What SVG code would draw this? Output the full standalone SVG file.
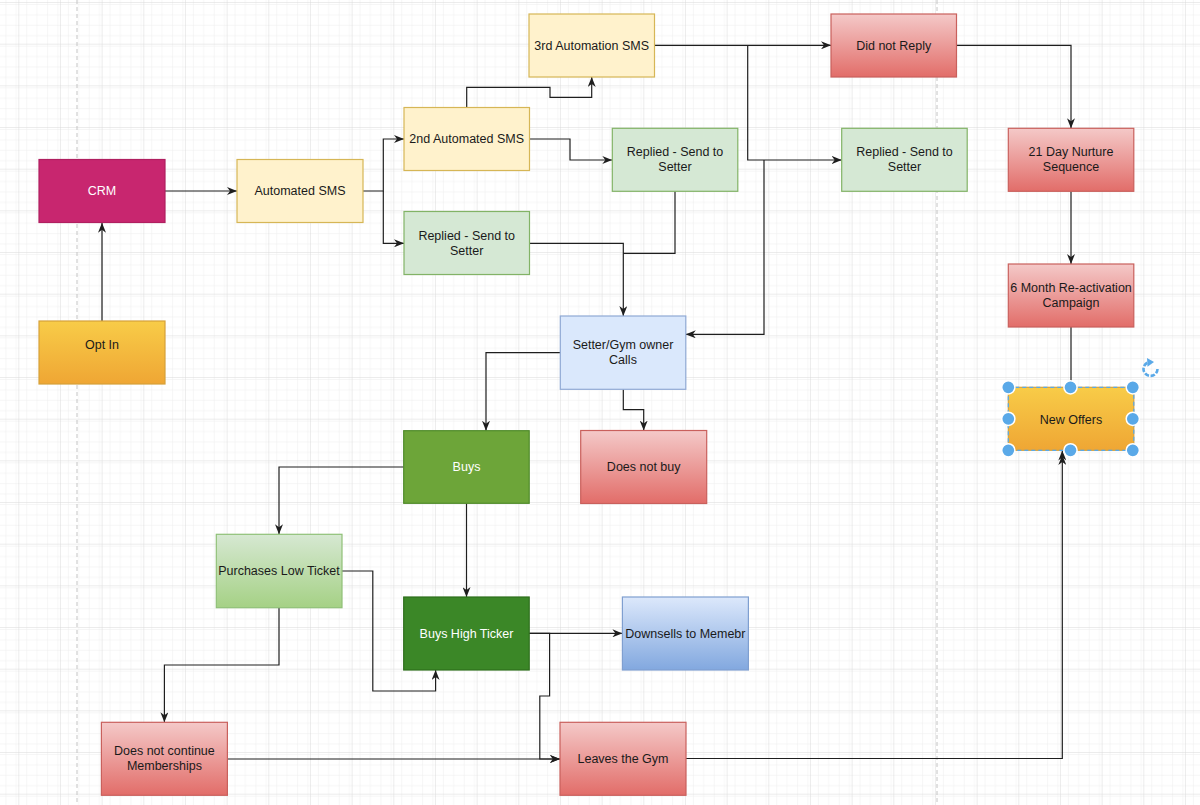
<svg xmlns="http://www.w3.org/2000/svg" width="1200" height="805" viewBox="0 0 1200 805">
<defs>
  <pattern id="minor" patternUnits="userSpaceOnUse" x="18.3" y="2" width="10.4167" height="10.4167">
    <path d="M0,0 H10.4167 M0,0 V10.4167" fill="none" stroke="#ededed" stroke-width="1"/>
  </pattern>
  <pattern id="major" patternUnits="userSpaceOnUse" x="18.3" y="2" width="41.6667" height="41.6667">
    <rect width="41.6667" height="41.6667" fill="url(#minor)"/>
    <path d="M0,0 H41.6667 M0,0 V41.6667" fill="none" stroke="#dadada" stroke-width="1"/>
  </pattern>
  <linearGradient id="gRed" x1="0" y1="0" x2="0" y2="1">
    <stop offset="0" stop-color="#f4c9c8"/>
    <stop offset="1" stop-color="#e26d69"/>
  </linearGradient>
  <linearGradient id="gOrange" x1="0" y1="0" x2="0" y2="1">
    <stop offset="0" stop-color="#f8cc48"/>
    <stop offset="1" stop-color="#efa634"/>
  </linearGradient>
  <linearGradient id="gGreen" x1="0" y1="0" x2="0" y2="1">
    <stop offset="0" stop-color="#d6e8d2"/>
    <stop offset="1" stop-color="#a5d185"/>
  </linearGradient>
  <linearGradient id="gBlue" x1="0" y1="0" x2="0" y2="1">
    <stop offset="0" stop-color="#dce8fb"/>
    <stop offset="1" stop-color="#82a8df"/>
  </linearGradient>
  <marker id="arr" markerUnits="userSpaceOnUse" viewBox="0 0 10 8" markerWidth="10" markerHeight="8" refX="10" refY="4" orient="auto">
    <path d="M0,0 L10,4 L0,8 L3,4 Z" fill="#1e1e1e"/>
  </marker>
  <style>
    .n rect { stroke-width: 1.2; }
    .yel { fill: #fff2cc; stroke: #d6b656; }
    .grn { fill: #d5e8d4; stroke: #82b366; }
    .red { fill: url(#gRed); stroke: #c9605c; }
    .org { fill: url(#gOrange); stroke: #d6a13a; }
    .blu { fill: #dae8fc; stroke: #8fa9d4; }
    .t { font-family: "Liberation Sans", Arial, sans-serif; font-size: 12.5px; fill: #1a1a1a; text-anchor: middle; }
    .w { fill: #ffffff; }
    #connectors path { fill: none; stroke: #1e1e1e; stroke-width: 1.2; }
    .a { marker-end: url(#arr); }
    .h { fill: #5aa9e8; stroke: #ffffff; stroke-width: 1.5; }
  </style>
</defs>

<rect width="1200" height="805" fill="#ffffff"/>
<rect width="1200" height="805" fill="url(#major)"/>
<path d="M77,0 V805 M937,0 V805" stroke="#c4c4c4" stroke-width="1" stroke-dasharray="4,3" fill="none"/>

<g id="connectors">
  <path class="a" d="M102,321 V222.8"/>
  <path class="a" d="M165,191 H237"/>
  <path class="a" d="M363,191 H383.3 V139 H404"/>
  <path class="a" d="M383.3,191 V243.3 H404"/>
  <path class="a" d="M466.7,107.5 V87.3 H550 V97.3 H591.7 V77"/>
  <path class="a" d="M529.5,139 H570 V160 H612.3"/>
  <path class="a" d="M529.5,243.3 H623.3 V316"/>
  <path d="M675,191.3 V253.3 H623.3"/>
  <path class="a" d="M654.5,45.3 H831"/>
  <path class="a" d="M747.7,45.3 V160 H841.7"/>
  <path class="a" d="M764,160 V334.3 H685.8"/>
  <path class="a" d="M956.5,45.3 H1071 V128.3"/>
  <path class="a" d="M1071,191.3 V264"/>
  <path d="M1071,327 V387"/>
  <path class="a" d="M560.3,352.7 H486 V430.7"/>
  <path class="a" d="M623.3,389.3 V409.7 H643.7 V430.5"/>
  <path class="a" d="M403.7,467 H279 V534.3"/>
  <path class="a" d="M466.5,503.3 V597"/>
  <path class="a" d="M342,571 H372.8 V691 H435.6 V670"/>
  <path class="a" d="M279,607.7 V665 H164.4 V722.3"/>
  <path class="a" d="M529.2,633.3 H622.4"/>
  <path class="a" d="M529.2,633.3 H549.6 V696 H539.8 V759 H560"/>
  <path class="a" d="M227.4,759 H560"/>
  <path class="a" d="M686,758.5 H1062.3 V450.5"/>
  <path class="a" d="M1062.3,462 V455"/>
</g>

<g id="crm" class="n">
  <rect x="39" y="159.5" width="126" height="63" fill="#c8266f" stroke="#b01f60"/>
  <text class="t w" x="102" y="195">CRM</text>
</g>
<g id="opt-in" class="n">
  <rect class="org" x="39" y="321" width="126" height="63"/>
  <text class="t" x="102" y="348.5">Opt In</text>
</g>
<g id="automated-sms" class="n">
  <rect class="yel" x="237" y="159.5" width="126" height="63"/>
  <text class="t" x="300" y="195">Automated SMS</text>
</g>
<g id="sms-2" class="n">
  <rect class="yel" x="404" y="107.5" width="125.5" height="63"/>
  <text class="t" x="466.7" y="143">2nd Automated SMS</text>
</g>
<g id="replied-left" class="n">
  <rect class="grn" x="404" y="211.5" width="125.5" height="63"/>
  <text class="t" x="466.7" y="239.5">Replied - Send to</text>
  <text class="t" x="466.7" y="254.5">Setter</text>
</g>
<g id="sms-3" class="n">
  <rect class="yel" x="529" y="14" width="125.5" height="63"/>
  <text class="t" x="591.7" y="49.5">3rd Automation SMS</text>
</g>
<g id="replied-mid" class="n">
  <rect class="grn" x="612.3" y="128.3" width="125.5" height="63"/>
  <text class="t" x="675" y="156">Replied - Send to</text>
  <text class="t" x="675" y="171">Setter</text>
</g>
<g id="did-not-reply" class="n">
  <rect class="red" x="831" y="14" width="125.5" height="63"/>
  <text class="t" x="893.7" y="49.5">Did not Reply</text>
</g>
<g id="replied-right" class="n">
  <rect class="grn" x="841.7" y="128.3" width="125.5" height="63"/>
  <text class="t" x="904.5" y="156">Replied - Send to</text>
  <text class="t" x="904.5" y="171">Setter</text>
</g>
<g id="nurture" class="n">
  <rect class="red" x="1008.3" y="128.3" width="125.5" height="63"/>
  <text class="t" x="1071" y="156">21 Day Nurture</text>
  <text class="t" x="1071" y="171">Sequence</text>
</g>
<g id="reactivation" class="n">
  <rect class="red" x="1008.3" y="264" width="125.5" height="63"/>
  <text class="t" x="1071" y="291.5">6 Month Re-activation</text>
  <text class="t" x="1071" y="306.5">Campaign</text>
</g>
<g id="new-offers" class="n">
  <rect class="org" x="1008.3" y="387.3" width="125.5" height="63" stroke="none"/>
  <rect x="1008.3" y="387.3" width="125.5" height="63" fill="none" stroke="#5aa9e8" stroke-width="1.2" stroke-dasharray="4,3"/>
  <text class="t" x="1071" y="423.5">New Offers</text>
</g>
<g id="setter" class="n">
  <rect class="blu" x="560.3" y="316" width="125.5" height="73.3"/>
  <text class="t" x="623" y="349">Setter/Gym owner</text>
  <text class="t" x="623" y="363.5">Calls</text>
</g>
<g id="does-not-buy" class="n">
  <rect class="red" x="580.7" y="430.5" width="126" height="73"/>
  <text class="t" x="643.7" y="471">Does not buy</text>
</g>
<g id="buys" class="n">
  <rect x="403.7" y="430.7" width="125.5" height="72.6" fill="#6da539" stroke="#4f8a2a"/>
  <text class="t w" x="466.5" y="471">Buys</text>
</g>
<g id="low-ticket" class="n">
  <rect x="216.3" y="534.3" width="125.7" height="73.4" fill="url(#gGreen)" stroke="#8fc077"/>
  <text class="t" x="279" y="575">Purchases Low Ticket</text>
</g>
<g id="high-ticket" class="n">
  <rect x="403.7" y="597" width="125.5" height="73" fill="#3b8727" stroke="#2e6e1c"/>
  <text class="t w" x="466.5" y="637.5">Buys High Ticker</text>
</g>
<g id="downsells" class="n">
  <rect x="622.4" y="597" width="126" height="73" fill="url(#gBlue)" stroke="#7f9fd0"/>
  <text class="t" x="685.4" y="637.5">Downsells to Memebr</text>
</g>
<g id="not-continue" class="n">
  <rect class="red" x="101.4" y="722.3" width="126" height="73"/>
  <text class="t" x="164.4" y="755">Does not continue</text>
  <text class="t" x="164.4" y="770">Memberships</text>
</g>
<g id="leaves-gym" class="n">
  <rect class="red" x="560" y="722.3" width="126" height="73"/>
  <text class="t" x="623" y="763">Leaves the Gym</text>
</g>

<g id="selection">
  <circle class="h" cx="1008.3" cy="387.3" r="6.6"/>
  <circle class="h" cx="1070.5" cy="387.3" r="6.6"/>
  <circle class="h" cx="1132.8" cy="387.3" r="6.6"/>
  <circle class="h" cx="1008.3" cy="418.8" r="6.6"/>
  <circle class="h" cx="1132.8" cy="418.8" r="6.6"/>
  <circle class="h" cx="1008.3" cy="450.3" r="6.6"/>
  <circle class="h" cx="1070.5" cy="450.3" r="6.6"/>
  <circle class="h" cx="1132.8" cy="450.3" r="6.6"/>
  <path d="M1157.5,369 A7,7 0 1 1 1149.5,362" fill="none" stroke="#5aa9e8" stroke-width="2.6" stroke-dasharray="4.5,1.6"/>
  <path d="M1147,358 L1154,362 L1147.5,366.8 Z" fill="#5aa9e8"/>
</g>
</svg>
